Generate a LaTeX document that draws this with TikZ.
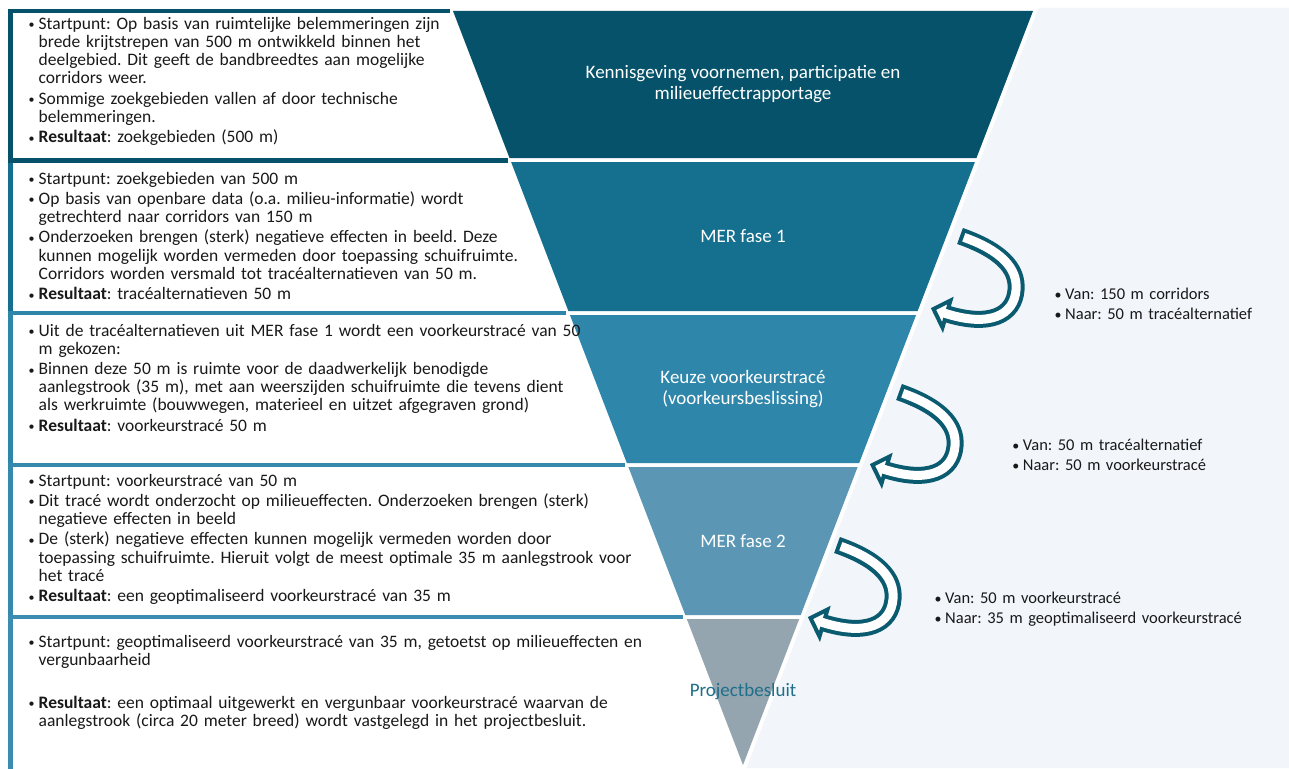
\documentclass[tikz,border=0pt]{standalone}
\usepackage{fontspec}
\setmainfont{Carlito}
\usepackage{xcolor}
\usepackage{tikz}

\definecolor{bandA}{HTML}{05526A}
\definecolor{bandB}{HTML}{15708F}
\definecolor{bandC}{HTML}{2E86AB}
\definecolor{bandD}{HTML}{5B97B4}
\definecolor{bandE}{HTML}{94A5AF}
\definecolor{lineD}{HTML}{3589AD}
\definecolor{lineE}{HTML}{3A8DB1}
\definecolor{arrowteal}{HTML}{0B5B70}
\definecolor{lightbg}{HTML}{F2F6FB}
\definecolor{besluit}{HTML}{1F6E8A}

% bullet item, later lines hang under the text
\newcommand{\bul}[1]{\hangindent=10pt\hangafter=1\noindent\makebox[10pt][l]{\raisebox{0.5pt}{\fontsize{12}{12}\selectfont\textbullet}}#1\par\vspace{2.1pt}}
\newcommand{\sbul}{\makebox[10.5pt][l]{\fontsize{14}{14}\selectfont\textbullet}}

\begin{document}
\begin{tikzpicture}[
  x=1pt, y=-1pt,
  band/.style={fill=#1},
  boxline/.style={draw=#1, line width=4.5pt},
  boxtext/.style={anchor=base west, inner sep=0pt, text width=700pt, text=black!90, font=\fontsize{17.5}{18.2}\selectfont\frenchspacing},
  sidetext/.style={anchor=base west, inner sep=0pt, text width=330pt, align=left, text=black!90, font=\fontsize{16.5}{20}\selectfont\frenchspacing},
  phase/.style={inner sep=0pt, align=center, text=white, font=\fontsize{19}{21}\selectfont\frenchspacing},
  uturn/.pic={
    \draw[arrowteal, line width=17pt] (30,-72) .. controls (70,-58) and (88,-40) .. (86,-18)
      .. controls (84,7) and (60,20) .. (14,5);
    \draw[arrowteal, line width=4pt, fill=white] (3.5,1) -- (20.5,-7.5) -- (12.5,19.5) -- cycle;
    \draw[white, line width=9pt, shorten <=4pt] (30,-72) .. controls (70,-58) and (88,-40) .. (86,-18)
      .. controls (84,7) and (60,20) .. (14,5);
  }
]
\fill[white] (0,0) rectangle (1289,768);
\useasboundingbox (0,0) rectangle (1289,768);

% light area right of the funnel
\fill[lightbg] (1038.7,8) -- (1289,8) -- (1289,768) -- (746.4,768) -- cycle;

% funnel
\foreach \ya/\yb/\col in {11/158/bandA, 162/311/bandB, 315/463/bandC, 467/615/bandD}
  \fill[band=\col] ({453+0.3846*(\ya-11)},\ya) -- ({1033-0.3846*(\ya-11)},\ya)
    -- ({1033-0.3846*(\yb-11)},\yb) -- ({453+0.3846*(\yb-11)},\yb) -- cycle;
\fill[band=bandE] (686.8,619) -- (799.2,619) -- (743,765) -- cycle;

% borders of the text boxes
\foreach \ya/\yb/\col in {160.5/313/bandB, 313/465/bandC, 465/617/lineD, 617/772/lineE}
  \draw[boxline=\col] (10.5,\yb) -- (10.5,\ya) -- ({453+0.3846*(\ya-11)-3},\ya);
\draw[boxline=bandA] ({453+0.3846*(160.5-11)-3},160.5) -- (10.5,160.5) -- (10.5,10.8) -- (450,10.8);

% phase labels
\node[phase] (labA) at (743,84.5) {Kennisgeving voornemen, participatie en\\milieueffectrapportage};
\node[phase] (labB) at (743,236.5) {MER fase 1};
\node[phase] (labC) at (743,389) {Keuze voorkeurstracé\\(voorkeursbeslissing)};
\node[phase] (labD) at (743,541) {MER fase 2};
\node[phase, text=besluit] (labE) at (743,692) {Projectbesluit};

% texts on the left
\node[boxtext] (txtA) at (28.5,29.3) {%
  \bul{Startpunt: Op basis van ruimtelijke belemmeringen zijn\newline brede krijtstrepen van 500 m ontwikkeld binnen het\newline deelgebied. Dit geeft de bandbreedtes aan mogelijke\newline corridors weer.}
  \bul{Sommige zoekgebieden vallen af door technische\newline belemmeringen.}
  \bul{\textbf{Resultaat}: zoekgebieden (500 m)}};
\node[boxtext] (txtB) at (28.5,184) {%
  \bul{Startpunt: zoekgebieden van 500 m}
  \bul{Op basis van openbare data (o.a. milieu-informatie) wordt\newline getrechterd naar corridors van 150 m}
  \bul{Onderzoeken brengen (sterk) negatieve effecten in beeld. Deze\newline kunnen mogelijk worden vermeden door toepassing schuifruimte.\newline Corridors worden versmald tot tracéalternatieven van 50 m.}
  \bul{\textbf{Resultaat}: tracéalternatieven 50 m}};
\node[boxtext] (txtC) at (28.5,336) {%
  \bul{Uit de tracéalternatieven uit MER fase 1 wordt een voorkeurstracé van 50\newline m gekozen:}
  \bul{Binnen deze 50 m is ruimte voor de daadwerkelijk benodigde\newline aanlegstrook (35 m), met aan weerszijden schuifruimte die tevens dient\newline als werkruimte (bouwwegen, materieel en uitzet afgegraven grond)}
  \bul{\textbf{Resultaat}: voorkeurstracé 50 m}};
\node[boxtext] (txtD) at (28.5,486) {%
  \bul{Startpunt: voorkeurstracé van 50 m}
  \bul{Dit tracé wordt onderzocht op milieueffecten. Onderzoeken brengen (sterk)\newline negatieve effecten in beeld}
  \bul{De (sterk) negatieve effecten kunnen mogelijk vermeden worden door\newline toepassing schuifruimte. Hieruit volgt de meest optimale 35 m aanlegstrook voor\newline het tracé}
  \bul{\textbf{Resultaat}: een geoptimaliseerd voorkeurstracé van 35 m}};
\node[boxtext] (txtE) at (28.5,647) {%
  \bul{Startpunt: geoptimaliseerd voorkeurstracé van 35 m, getoetst op milieueffecten en\newline vergunbaarheid}
  \vspace{22.5pt}
  \bul{\textbf{Resultaat}: een optimaal uitgewerkt en vergunbaar voorkeurstracé waarvan de\newline aanlegstrook (circa 20 meter breed) wordt vastgelegd in het projectbesluit.}};

% u-turn arrows between the phases
\pic (turnA) at (930,308) {uturn};
\pic (turnB) at (869,464) {uturn};
\pic (turnC) at (807,617) {uturn};

% texts on the right
\node[sidetext] (sideA) at (1054.5,299.5) {\sbul Van: 150 m corridors\\\sbul Naar: 50 m tracéalternatief};
\node[sidetext] (sideB) at (1012.2,450.5) {\sbul Van: 50 m tracéalternatief\\\sbul Naar: 50 m voorkeurstracé};
\node[sidetext] (sideC) at (934.5,603.5) {\sbul Van: 50 m voorkeurstracé\\\sbul Naar: 35 m geoptimaliseerd voorkeurstracé};
\end{tikzpicture}
\end{document}
